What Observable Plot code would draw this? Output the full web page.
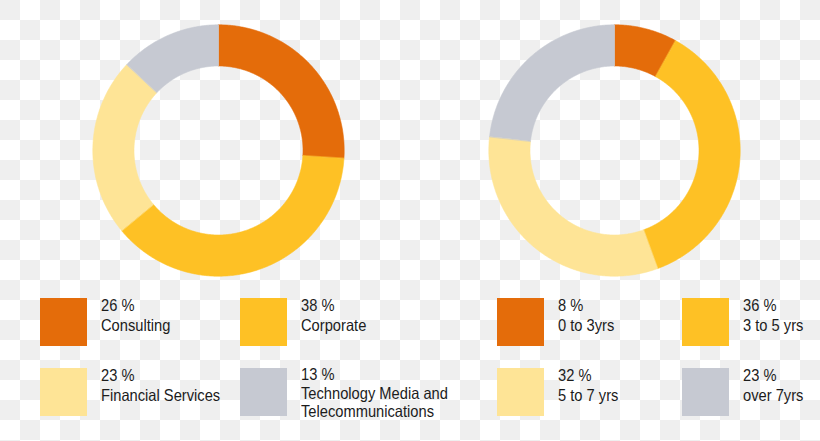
<!DOCTYPE html>
<html>
<head>
<meta charset="utf-8">
<script src="https://cdn.jsdelivr.net/npm/d3@7"></script>
<script src="https://cdn.jsdelivr.net/npm/@observablehq/plot@0.6"></script>
<style>
  html, body { margin: 0; padding: 0; background: #ffffff; }
  body { width: 820px; height: 441px; overflow: hidden;
         font-family: "Liberation Sans", Arial, sans-serif; }
  #root { position: relative; width: 820px; height: 441px; }
  #bg { position: absolute; left: 0; top: 0; }
  .donut { position: absolute; top: 20px; }
  .item { position: absolute; }
  .sw { position: absolute; left: 0; top: 0; width: 47px; height: 48px; }
  .txt { position: absolute; left: 61px; top: -2px; width: 200px;
         font-size: 16.5px; line-height: 19.5px; color: #1c1c1c;
         transform: scaleX(0.89); transform-origin: 0 0; }
</style>
</head>
<body>
<div id="root">
  <svg id="bg" width="820" height="441" xmlns="http://www.w3.org/2000/svg">
    <defs>
      <pattern id="checker" x="0" y="0" width="40" height="40" patternUnits="userSpaceOnUse">
        <rect x="0" y="0" width="40" height="40" fill="#ffffff"></rect>
        <rect x="0" y="0" width="20" height="20" fill="#efefef"></rect>
        <rect x="20" y="20" width="20" height="20" fill="#efefef"></rect>
      </pattern>
    </defs>
    <rect x="0" y="0" width="820" height="441" fill="url(#checker)"></rect>
  </svg>
</div>
<script>
// ---- data ----
const industryLabels = ["Consulting", "Corporate", "Financial Services", "Technology Media and Telecommunications"];
const industryValues = [26, 38, 23, 13];
const tenureLabels = ["0 to 3yrs", "3 to 5 yrs", "5 to 7 yrs", "over 7yrs"];
const tenureValues = [8, 36, 32, 23];
const sliceColors = ["#e46c0a", "#fec125", "#fee496", "#c6c9d2"];

// ---- layout ----
const OUTER = 125.7, INNER = 84.5;

function ringPoints(labels, values) {
  const total = d3.sum(values);
  const pts = [];
  let acc = 0;
  labels.forEach((label, i) => {
    const a0 = acc / total * 2 * Math.PI;
    acc += values[i];
    const a1 = acc / total * 2 * Math.PI;
    const n = Math.max(2, Math.ceil((a1 - a0) / (Math.PI / 360)));
    for (let k = 0; k <= n; k++) {
      const a = a0 + (a1 - a0) * k / n;
      pts.push({label, x: OUTER * Math.sin(a), y: OUTER * Math.cos(a)});
    }
    for (let k = n; k >= 0; k--) {
      const a = a0 + (a1 - a0) * k / n;
      pts.push({label, x: INNER * Math.sin(a), y: INNER * Math.cos(a)});
    }
  });
  return pts;
}

function donut(labels, values) {
  return Plot.plot({
    width: 260, height: 260, margin: 0,
    x: {domain: [-130, 130], axis: null},
    y: {domain: [-130, 130], axis: null},
    color: {domain: labels, range: sliceColors},
    style: {background: "transparent"},
    marks: [
      Plot.line(ringPoints(labels, values), {
        x: "x", y: "y", z: "label", fill: "label", stroke: "label",
        strokeWidth: 0.6, curve: "linear-closed"
      })
    ]
  });
}

const root = document.getElementById("root");
const left = donut(industryLabels, industryValues);
left.classList.add("donut"); left.style.left = "88px";
root.appendChild(left);
const right = donut(tenureLabels, tenureValues);
right.classList.add("donut"); right.style.left = "484px";
root.appendChild(right);

// legends
const colX = [[40, 240], [497, 682]];
const rowY = [298, 368];
function legend(labels, values, cols) {
  labels.forEach((label, i) => {
    const item = document.createElement("div");
    item.className = "item";
    item.style.left = cols[i % 2] + "px";
    item.style.top = rowY[Math.floor(i / 2)] + "px";
    const sw = document.createElement("div");
    sw.className = "sw"; sw.style.background = sliceColors[i];
    const txt = document.createElement("div");
    txt.className = "txt";
    const p = document.createElement("div"); p.textContent = values[i] + " %";
    const l = document.createElement("div"); l.textContent = label;
    txt.appendChild(p); txt.appendChild(l);
    item.appendChild(sw); item.appendChild(txt);
    root.appendChild(item);
    if (txt.offsetHeight > 50) { txt.style.top = "-3px"; txt.style.lineHeight = "18.5px"; }
  });
}
legend(industryLabels, industryValues, colX[0]);
legend(tenureLabels, tenureValues, colX[1]);
</script>
</body>
</html>
